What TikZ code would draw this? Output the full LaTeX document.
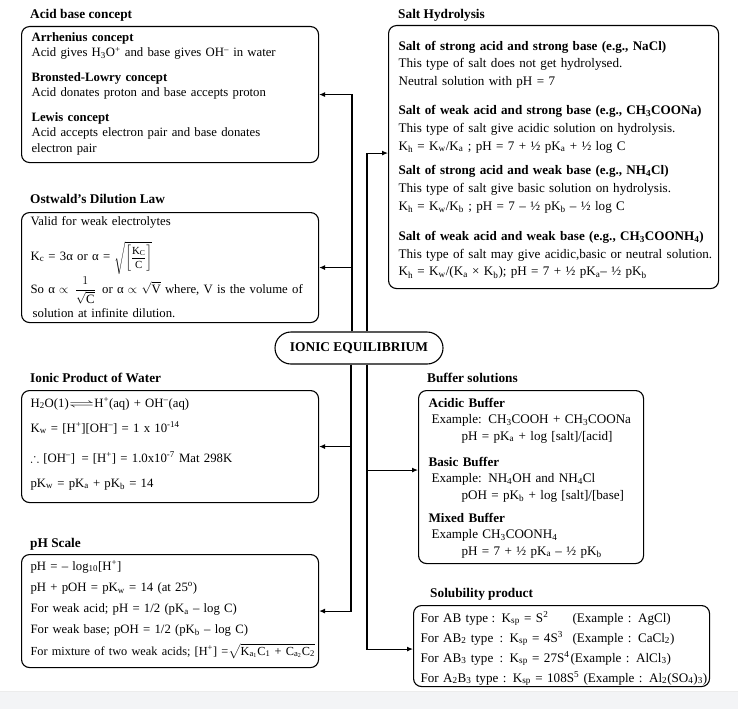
\documentclass[tikz,border=0pt]{standalone}
\usepackage{fontspec}
\usepackage{amsmath,amssymb}
\setmainfont{Liberation Serif}
\usetikzlibrary{arrows.meta,positioning}

\definecolor{mybandgray}{RGB}{243,244,246}
\newcommand{\sbs}[1]{\textsubscript{#1}}
\newcommand{\sps}[1]{\textsuperscript{#1}}

\begin{document}
\begin{tikzpicture}[x=1pt,y=-1pt,
    panel/.style={draw,line width=1.1pt,rounded corners=8pt,align=left,
      anchor=north west,inner xsep=9pt,inner ysep=0pt},
    leftpanel/.style={panel,text width=279pt,font=\fontsize{12.75}{15.5}\selectfont},
    heading/.style={anchor=west,inner sep=0pt,font=\bfseries\fontsize{13.3}{15}\selectfont},
    link/.style={line width=1.1pt,-{Latex[length=6pt,width=5pt]}}]
  \useasboundingbox (0,0) rectangle (738,709);
  \fill[mybandgray] (0,691) rectangle (738,709);
  \draw[gray!15] (0,691) -- (738,691);

  % left column
  \node[heading] (acidhead) at (30,15) {Acid base concept};
  \node[leftpanel,inner xsep=10pt,text width=277pt,text height=14.5pt,text depth=121.5pt] (acid) at (21,26) {%
    \textbf{Arrhenius concept}\\
    Acid gives H\sbs{3}O\sps{+} and base gives OH\sps{–} in water\\[9pt]
    \textbf{Bronsted-Lowry concept}\\
    Acid donates proton and base accepts proton\\[9pt]
    \textbf{Lewis concept}\\
    Acid accepts electron pair and base donates\\
    electron pair};

  \node[heading] (ostwaldhead) at (30,199) {Ostwald's Dilution Law};
  \node[leftpanel,text height=12.5pt,text depth=97.5pt] (ostwald) at (21,212) {%
    Valid for weak electrolytes\\[19.5pt]
    K\sbs{c} = 3α or α = \smash{\raisebox{-1pt}{\scalebox{0.85}{$\sqrt{\left[\dfrac{\mbox{K\sbs{C}}}{\mbox{C}}\right]}$}}}\\[17.5pt]
    \mbox{So α $\propto$ \,$\smash{\dfrac{1}{\sqrt{\mbox{C}}}}$\, or α $\propto$ $\sqrt{\mbox{V}}$ where, V is the volume of}\\[8.5pt]
    \,solution at infinite dilution.};

  \node[heading] (waterhead) at (30,378) {Ionic Product of Water};
  \node[leftpanel,text height=16.5pt,text depth=95.5pt] (water) at (21,390) {%
    H\sbs{2}O(1)\scalebox{2}[1]{$\rightleftharpoons$}H\sps{+}(aq) + OH\sps{–}(aq)\\[9.5pt]
    K\sbs{w} = [H\sps{+}][OH\sps{–}] = 1 x 10\sps{-14}\\[14.5pt]
    $\boldsymbol{\therefore}$ [OH\sps{–}]\, = [H\sps{+}] = 1.0x10\sps{-7} Mat 298K\\[9.5pt]
    pK\sbs{w} = pK\sbs{a} + pK\sbs{b} = 14};

  \node[heading] (phhead) at (30,544) {pH Scale};
  \node[leftpanel,font=\fontsize{12.75}{21.25}\selectfont,text height=15.5pt,text depth=97.5pt] (phscale) at (21,554) {%
    pH = – log\sbs{10}[H\sps{+}]\\
    pH + pOH = pK\sbs{w} = 14 (at 25\sps{o})\\
    For weak acid; pH = 1/2 (pK\sbs{a} – log C)\\
    For weak base; pOH = 1/2 (pK\sbs{b} – log C)\\
    \mbox{\fontsize{12.3}{21.25}\selectfont For mixture of two weak acids; [H\sps{+}] =$\sqrt{\mbox{K\sbs{a\sbs{1}}C\sbs{1} + C\sbs{a\sbs{2}}C\sbs{2}}}$}};

  % centre
  \node[draw,line width=1.1pt,rounded corners=16pt,minimum width=168pt,minimum height=32pt,
        font=\bfseries\fontsize{13.4}{15}\selectfont] (hub) at (359,348) {IONIC EQUILIBRIUM};

  % right column
  \node[heading] (salthead) at (398,15) {Salt Hydrolysis};
  \node[panel,inner xsep=10pt,text width=310pt,text height=24.5pt,text depth=238.5pt,
        font=\fontsize{13.1}{17.8}\selectfont] (salt) at (388,25) {%
    \textbf{Salt of strong acid and strong base (e.g., NaCl)}\\
    This type of salt does not get hydrolysed.\\
    Neutral solution with pH = 7\\[11pt]
    \mbox{\textbf{Salt of weak acid and strong base (e.g., CH\sbs{3}COONa)}}\\
    This type of salt give acidic solution on hydrolysis.\\
    K\sbs{h} = K\sbs{w}/K\sbs{a} ; pH = 7 + ½ pK\sbs{a} + ½ log C\\[7pt]
    \mbox{\textbf{Salt of strong acid and weak base (e.g., NH\sbs{4}Cl)}}\\
    This type of salt give basic solution on hydrolysis.\\
    K\sbs{h} = K\sbs{w}/K\sbs{b} ; pH = 7 – ½ pK\sbs{b} – ½ log C\\[12pt]
    \mbox{\textbf{Salt of weak acid and weak base (e.g., CH\sbs{3}COONH\sbs{4})}}\\
    \mbox{This type of salt may give acidic,basic or neutral solution.}\\
    \mbox{K\sbs{h} = K\sbs{w}/(K\sbs{a} × K\sbs{b}); pH = 7 + ½ pK\sbs{a}– ½ pK\sbs{b}}};

  \node[heading] (bufferhead) at (427,378) {Buffer solutions};
  \node[panel,inner xsep=10pt,text width=205pt,text height=16.5pt,text depth=156.5pt,
        font=\fontsize{13.1}{16.5}\selectfont] (buffer) at (418,390) {%
    \textbf{Acidic Buffer}\\
    \mbox{\hspace*{3pt}Example: CH\sbs{3}COOH + CH\sbs{3}COONa}\\
    \hspace*{33pt}pH = pK\sbs{a} + log [salt]/[acid]\\[9.5pt]
    \textbf{Basic Buffer}\\
    \hspace*{3pt}Example: NH\sbs{4}OH and NH\sbs{4}Cl\\
    \hspace*{33pt}pOH = pK\sbs{b} + log [salt]/[base]\\[6.5pt]
    \textbf{Mixed Buffer}\\
    \hspace*{3pt}Example CH\sbs{3}COONH\sbs{4}\\
    \hspace*{33pt}pH = 7 + ½ pK\sbs{a} – ½ pK\sbs{b}};

  \node[heading] (solubhead) at (430,594) {Solubility product};
  \node[panel,inner xsep=7pt,text width=282pt,text height=16.5pt,text depth=64.5pt,
        font=\fontsize{13.1}{20}\selectfont] (solub) at (413,605) {%
    \makebox[71pt][l]{For AB type}\makebox[81pt][l]{: K\sbs{sp} = S\sps{2}}(Example : AgCl)\\
    \makebox[79pt][l]{For AB\sbs{2} type}\makebox[73pt][l]{: K\sbs{sp} = 4S\sps{3}}(Example : CaCl\sbs{2})\\
    \makebox[79pt][l]{For AB\sbs{3} type}\makebox[71pt][l]{: K\sbs{sp} = 27S\sps{4}}(Example : AlCl\sbs{3})\\
    \mbox{For A\sbs{2}B\sbs{3} type : K\sbs{sp} = 108S\sps{5} (Example : Al\sbs{2}(SO\sbs{4})\sbs{3})}};

  % connectors
  \draw[link] ([xshift=-7pt]hub.north) |- (acid.east);
  \draw[link] ([xshift=-7pt]hub.north) |- (ostwald.east);
  \draw[link] ([xshift=-8pt]hub.south) |- (water.east);
  \draw[link] ([xshift=-8pt]hub.south) |- (phscale.east);
  \draw[link] ([xshift=8pt]hub.north) |- ([yshift=4pt]salt.west);
  \draw[link] ([xshift=8pt]hub.south) |- ([yshift=7pt]buffer.west);
  \draw[link] ([xshift=8pt]hub.south) |- ([yshift=-3pt]solub.west);
\end{tikzpicture}
\end{document}
